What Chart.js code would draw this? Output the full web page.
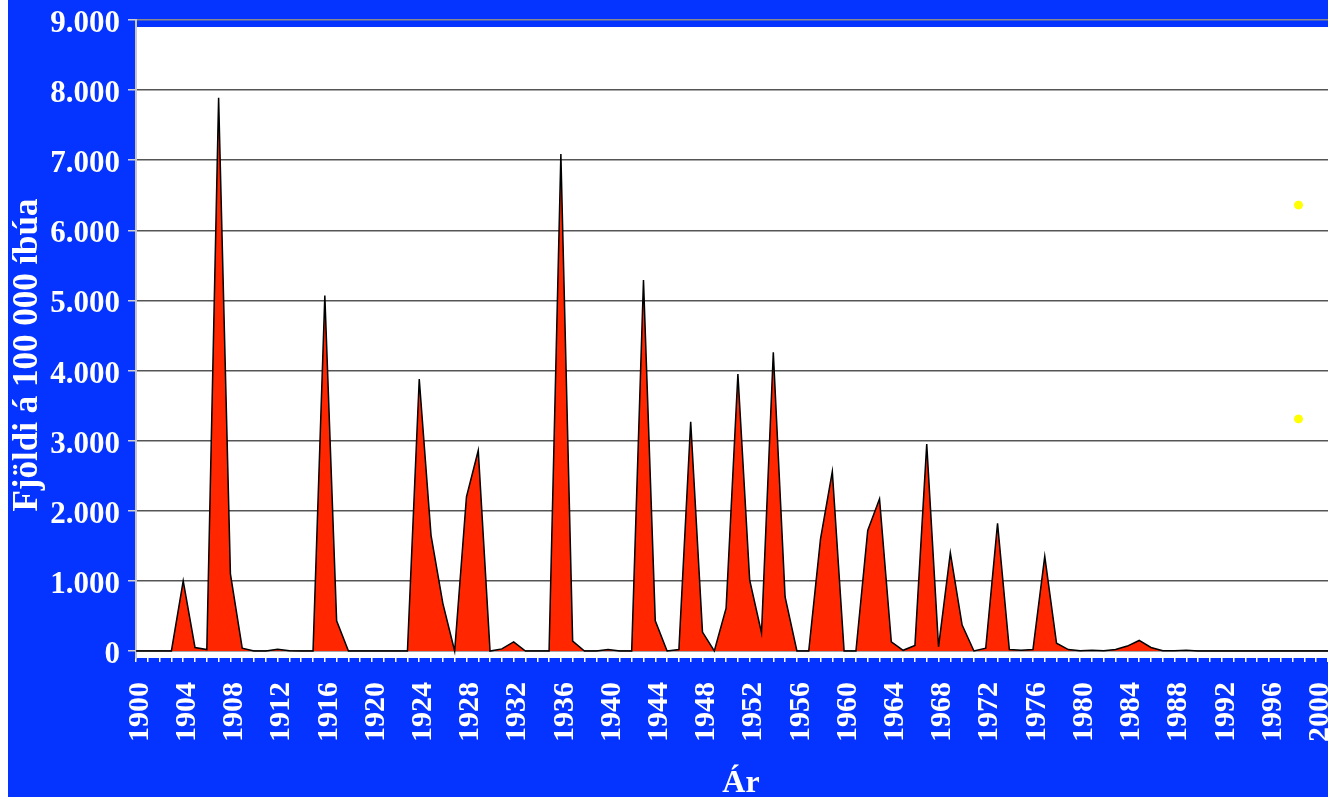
<!DOCTYPE html>
<html>
<head>
<meta charset="utf-8">
<script src="https://cdn.jsdelivr.net/npm/chart.js@4/dist/chart.umd.min.js"></script>
<style>
html,body{margin:0;padding:0;background:#0533ff;}
#wrap{width:1328px;height:797px;}
</style>
</head>
<body>
<div id="wrap"><canvas id="c" width="1328" height="797"></canvas></div>
<script>
const years = [];
for (let y = 1900; y <= 2001; y++) years.push(y);
const values = [
  0, 0, 0, 0, 1000, 50, 20, 7890, 1100, 40,      // 1900-1909
  0, 0, 25, 5, 0, 0, 5070, 430, 0, 0,            // 1910-1919
  0, 0, 0, 0, 3880, 1650, 680, 0, 2200, 2860,    // 1920-1929
  0, 30, 130, 0, 0, 0, 7090, 140, 0, 0,          // 1930-1939
  20, 0, 0, 5290, 430, 0, 20, 3270, 270, 0,      // 1940-1949
  610, 3950, 1010, 260, 4260, 770, 0, 0, 1600, 2560, // 1950-1959
  0, 0, 1720, 2170, 130, 10, 80, 2950, 60, 1400, // 1960-1969
  370, 0, 40, 1820, 20, 10, 20, 1350, 110, 20,   // 1970-1979
  5, 10, 5, 20, 70, 150, 50, 5, 5, 10,           // 1980-1989
  0, 0, 0, 0, 0, 0, 0, 0, 0, 0,                  // 1990-1999
  0, 0                                           // 2000-2001
];
const markerYears = [1998.5, 1998.5];
const markerValues = [6360, 3310];
const yTicks = [0, 1000, 2000, 3000, 4000, 5000, 6000, 7000, 8000, 9000];
const labelStep = 4;
const xTitle = 'Ár';
const yTitle = 'Fjöldi á 100 000 íbúa';

const BLUE = '#0533ff';
const serif = '"Liberation Serif", "Times New Roman", serif';

const bgPlugin = {
  id: 'bg',
  beforeDraw(chart) {
    const {ctx, chartArea, scales} = chart;
    ctx.save();
    ctx.fillStyle = '#ffffff';
    ctx.fillRect(0, 0, chart.width, chart.height);
    ctx.fillStyle = BLUE;
    ctx.fillRect(8, 0, chart.width - 8, chart.height);
    const top = scales.y.getPixelForValue(8900);
    ctx.fillStyle = '#ffffff';
    ctx.fillRect(chartArea.left, top, chartArea.right - chartArea.left, chartArea.bottom - top);
    ctx.restore();
  },
  afterDraw(chart) {
    const {ctx} = chart;
    ctx.save();
    ctx.fillStyle = '#ffffff';
    ctx.font = 'bold 32px ' + serif;
    ctx.textAlign = 'center';
    ctx.textBaseline = 'alphabetic';
    ctx.fillText(xTitle, 741, 792);
    ctx.translate(28, 355);
    ctx.rotate(-Math.PI / 2);
    ctx.font = 'bold 35px ' + serif;
    ctx.textBaseline = 'middle';
    ctx.fillText(yTitle, 0, 0);
    ctx.restore();
  }
};

new Chart(document.getElementById('c'), {
  type: 'line',
  data: {
    datasets: [
      {
        data: years.map((y, i) => ({x: y, y: values[i]})),
        borderColor: '#000000',
        borderWidth: 1.5,
        backgroundColor: '#ff2600',
        fill: 'origin',
        tension: 0,
        pointRadius: 0
      },
      {
        type: 'scatter',
        data: markerYears.map((y, i) => ({x: y, y: markerValues[i]})),
        backgroundColor: '#ffff00',
        borderColor: '#ffff00',
        pointRadius: 4
      }
    ]
  },
  options: {
    responsive: false,
    animation: false,
    devicePixelRatio: 1,
    layout: {autoPadding: false, padding: {left: 50, top: 0, right: 0, bottom: 0}},
    plugins: {legend: {display: false}, tooltip: {enabled: false}},
    scales: {
      x: {
        type: 'linear',
        min: 1900,
        max: 2001,
        afterFit: s => { s.paddingRight = 0; s.paddingLeft = 0; s.height = 139; },
        grid: {drawOnChartArea: false, color: '#ffffff', tickLength: 4, lineWidth: 1.5},
        border: {display: false},
        ticks: {
          stepSize: 1,
          autoSkip: false,
          minRotation: 90,
          maxRotation: 90,
          padding: 20,
          labelOffset: 4,
          color: '#ffffff',
          font: {family: serif, size: 30, weight: 'bold'},
          callback: v => (v % labelStep === 0 && v <= 2000) ? String(v) : ''
        },
        title: {display: false}
      },
      y: {
        min: -100,
        max: 9000,
        afterFit: s => { s.paddingTop = 20; s.paddingBottom = 0; s.width = 86; },
        afterBuildTicks: axis => { axis.ticks = yTicks.map(v => ({value: v})); },
        grid: {
          color: ctx => (ctx.tick && ctx.tick.value === 9000) ? '#8a8a8a' : '#555555',
          lineWidth: 1.5,
          tickColor: '#cfcfcf',
          tickLength: 8
        },
        border: {color: '#c8c8c8', width: 2},
        ticks: {
          padding: 8,
          labelOffset: 4,
          color: '#ffffff',
          font: {family: serif, size: 31, weight: 'bold'},
          callback: v => v.toLocaleString('de-DE')
        },
        title: {display: false}
      }
    }
  },
  plugins: [bgPlugin]
});
</script>
</body>
</html>
